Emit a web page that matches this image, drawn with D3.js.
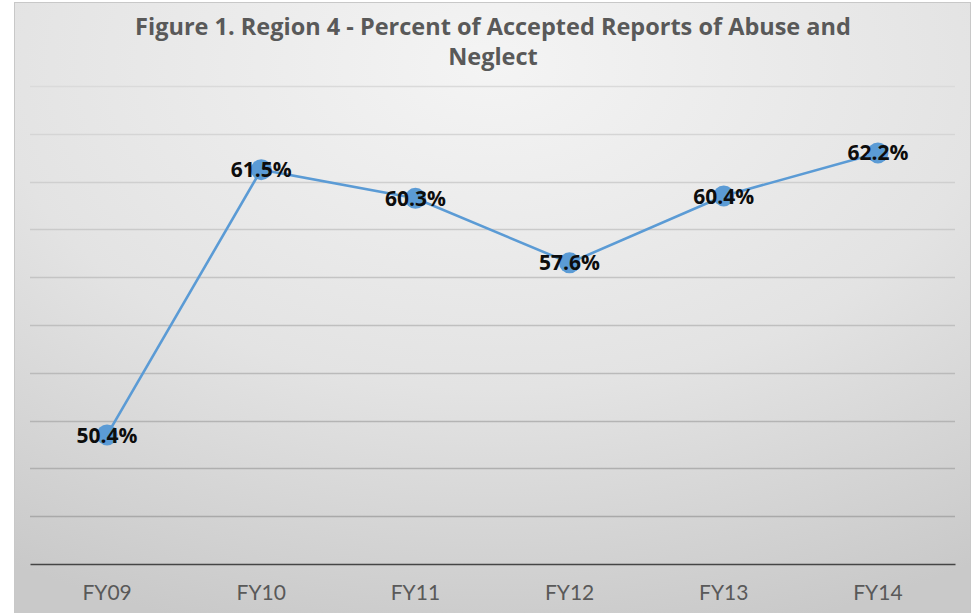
<!DOCTYPE html>
<html>
<head>
<meta charset="utf-8">
<script src="https://cdn.jsdelivr.net/npm/d3@7"></script>
<style>
  html, body { margin: 0; padding: 0; background: #fff; }
  svg { display: block; }
</style>
</head>
<body>
<div id="chart"></div>
<script>
const years = ["FY09", "FY10", "FY11", "FY12", "FY13", "FY14"];
const percents = [50.4, 61.5, 60.3, 57.6, 60.4, 62.2];
const yTicks = [45, 47, 49, 51, 53, 55, 57, 59, 61, 63, 65];
const titleLines = ["Figure 1. Region 4 - Percent of Accepted Reports of Abuse and", "Neglect"];

const width = 975;
const height = 613;
const marginTop = 86;
const marginRight = 20;
const marginBottom = 49;
const marginLeft = 30;

const svg = d3.select("#chart")
    .append("svg")
    .attr("width", width)
    .attr("height", height);

// background panel with soft radial shading
const grad = svg.append("defs").append("radialGradient")
    .attr("id", "bg")
    .attr("cx", "50%").attr("cy", "10%").attr("r", "95%");
grad.append("stop").attr("offset", "0%").attr("stop-color", "#f4f4f4");
grad.append("stop").attr("offset", "55%").attr("stop-color", "#e3e3e3");
grad.append("stop").attr("offset", "100%").attr("stop-color", "#c9c9c9");

svg.append("rect")
    .attr("x", 14.5).attr("y", 2.5)
    .attr("width", 956).attr("height", 620)
    .attr("fill", "url(#bg)")
    .attr("stroke", "#c8c8c8");

const x = d3.scaleBand()
    .domain(years)
    .range([marginLeft, width - marginRight]);

const y = d3.scaleLinear()
    .domain([45, 65])
    .range([height - marginBottom, marginTop]);

const gridColor = d3.scaleLinear().domain([65, 45]).range(["#dadada", "#a4a4a4"]);

// gridlines
svg.append("g")
    .selectAll("line")
    .data(yTicks.slice(1))
    .join("line")
    .attr("x1", marginLeft)
    .attr("x2", width - marginRight)
    .attr("y1", d => Math.round(y(d)) + 0.5)
    .attr("y2", d => Math.round(y(d)) + 0.5)
    .attr("stroke", d => gridColor(d))
    .attr("stroke-width", 1.3);

// x axis
const xAxis = svg.append("g")
    .attr("transform", `translate(0,${y(45)})`)
    .call(d3.axisBottom(x).tickSize(0).tickPadding(21));
xAxis.select(".domain").attr("stroke", "#454545").attr("stroke-width", 1.6);
xAxis.selectAll("text")
    .attr("fill", "#595959")
    .attr("font-family", "Lato, 'Open Sans', sans-serif")
    .attr("font-size", 21);

// title
svg.append("g")
    .selectAll("text")
    .data(titleLines)
    .join("text")
    .attr("x", 493)
    .attr("y", (d, i) => 35 + i * 30)
    .attr("text-anchor", "middle")
    .attr("fill", "#595959")
    .attr("font-family", "'Open Sans', Lato, sans-serif")
    .attr("font-weight", "bold")
    .attr("font-size", 23.5)
    .text(d => d);

const pts = years.map((d, i) => ({ year: d, value: percents[i] }));
const cx = d => x(d.year) + x.bandwidth() / 2;

const line = d3.line()
    .x(cx)
    .y(d => y(d.value));

svg.append("path")
    .datum(pts)
    .attr("fill", "none")
    .attr("stroke", "#5b9bd5")
    .attr("stroke-width", 2.6)
    .attr("d", line);

svg.append("g")
    .selectAll("circle")
    .data(pts)
    .join("circle")
    .attr("cx", cx)
    .attr("cy", d => y(d.value))
    .attr("r", 10.5)
    .attr("fill", "#5b9bd5");

svg.append("g")
    .selectAll("text")
    .data(pts)
    .join("text")
    .attr("x", cx)
    .attr("y", d => y(d.value))
    .attr("dy", "0.36em")
    .attr("text-anchor", "middle")
    .attr("fill", "#0d0d0d")
    .attr("font-family", "'Open Sans', Lato, sans-serif")
    .attr("font-weight", "bold")
    .attr("font-size", 21)
    .text(d => d.value.toFixed(1) + "%");
</script>
</body>
</html>
